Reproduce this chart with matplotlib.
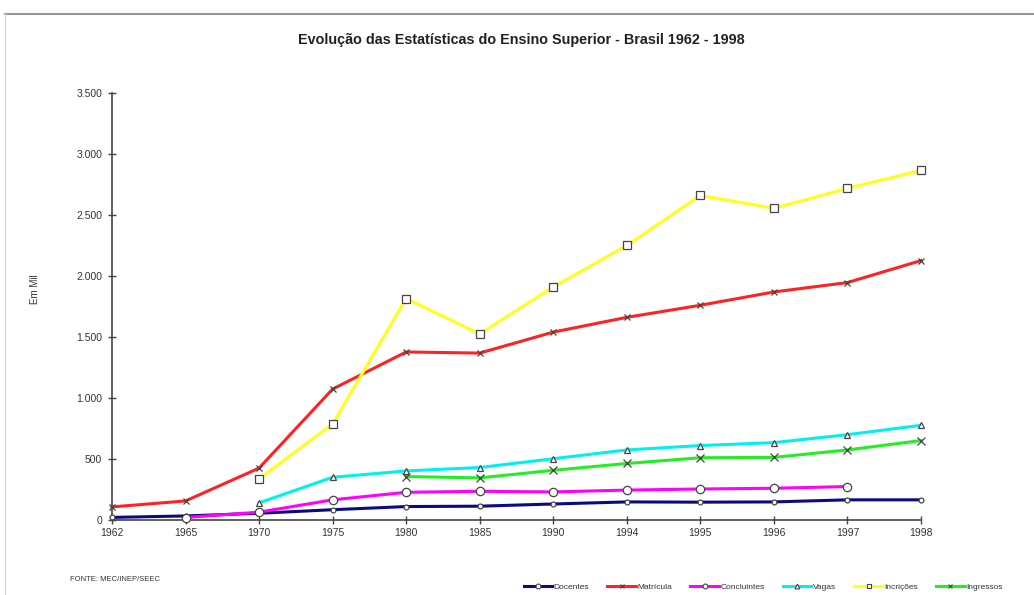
import numpy as np
import matplotlib.pyplot as plt
from matplotlib.lines import Line2D
from matplotlib.ticker import FuncFormatter

plt.rcParams['font.family'] = ['Liberation Sans', 'DejaVu Sans']

# Data (thousands)
anos = ['1962', '1965', '1970', '1975', '1980', '1985', '1990', '1994',
        '1995', '1996', '1997', '1998']
nan = np.nan
docentes = [21, 33, 55, 84, 110, 113, 131, 148, 146, 148, 165, 165]
matricula = [107, 156, 425, 1073, 1377, 1368, 1540, 1661, 1760, 1869, 1946, 2126]
concluintes = [nan, 20, 64, 165, 227, 235, 230, 245, 254, 260, 274, nan]
vagas = [nan, nan, 140, 350, 402, 430, 502, 574, 610, 634, 699, 776]
incricoes = [nan, nan, 336, 787, 1815, 1525, 1910, 2250, 2660, 2555, 2718, 2865]
ingressos = [nan, nan, nan, nan, 356, 345, 407, 463, 510, 513, 574, 651]

series = [
    ('Docentes', docentes, '#0a0a82', 'o', 3.5),
    ('Matrícula', matricula, '#ff2222', 'x', 5),
    ('Concluintes', concluintes, '#ff00ff', 'o', 6),
    ('Vagas', vagas, '#00f0f0', '^', 5),
    ('Incrições', incricoes, '#ffff1a', 's', 6),
    ('Ingressos', ingressos, '#22ee22', 'x', 6),
]
draw_order = ['Incrições', 'Matrícula', 'Vagas', 'Ingressos', 'Concluintes', 'Docentes']

fig = plt.figure(figsize=(10.34, 5.95), dpi=100)
ax = fig.add_axes([0.1083, 0.1261, 0.7824, 0.7176])

x = np.arange(len(anos))
for name, vals, color, mk, ms in series:
    z = 10 - draw_order.index(name)
    ax.plot(x, vals, color=color, lw=2.2, marker=mk, ms=ms,
            mfc='white' if mk != 'x' else 'none', mec='#444444', mew=0.9,
            zorder=z, clip_on=False)

ax.set_xlim(0, len(anos) - 1)
ax.set_ylim(0, 3500)
ax.set_xticks(x)
ax.set_xticklabels(anos)
ax.set_yticks(np.arange(0, 3501, 500))
ax.yaxis.set_major_formatter(FuncFormatter(lambda v, p: f'{int(v):,}'.replace(',', '.')))
for s in ['top', 'right']:
    ax.spines[s].set_visible(False)
for s in ['left', 'bottom']:
    ax.spines[s].set_color('#444444')
    ax.spines[s].set_linewidth(1.2)
ax.tick_params(direction='inout', length=6, width=1, color='#444444',
               labelsize=7.5, labelcolor='#333333')
ax.tick_params(axis='y', pad=4)
ax.tick_params(axis='x', pad=3)
ax.set_ylabel('Em Mil', fontsize=7, color='#333333')
ax.yaxis.set_label_coords(-0.089, 0.54)

fig.text(0.504, 0.932, 'Evolução das Estatísticas do Ensino Superior - Brasil 1962 - 1998',
         ha='center', va='center', fontsize=10.4, fontweight='bold', color='#222222')
fig.text(0.068, 0.026, 'FONTE: MEC/INEP/SEEC', fontsize=5.5, color='#333333',
         va='center')

leg_handles = []
for name, vals, color, mk, ms in series:
    leg_handles.append(Line2D([], [], color=color, lw=2.2, marker=mk, ms=3.5,
                              mfc='white' if mk != 'x' else 'none',
                              mec='#444444', mew=0.8))
fig.legend(leg_handles, [s[0] for s in series], loc='center',
           bbox_to_anchor=(0.738, 0.013), ncol=6, frameon=False, fontsize=6,
           handlelength=3.4, handletextpad=0.2, columnspacing=2.2,
           labelcolor='#333333')

# grey frame lines at the top and left edge
fig.add_artist(Line2D([0.005, 1.0], [0.976, 0.976], color='#999999', lw=1.5))
fig.add_artist(Line2D([0.005, 0.005], [0.0, 0.976], color='#dddddd', lw=1.0))

fig.savefig('out.png', dpi=100)
